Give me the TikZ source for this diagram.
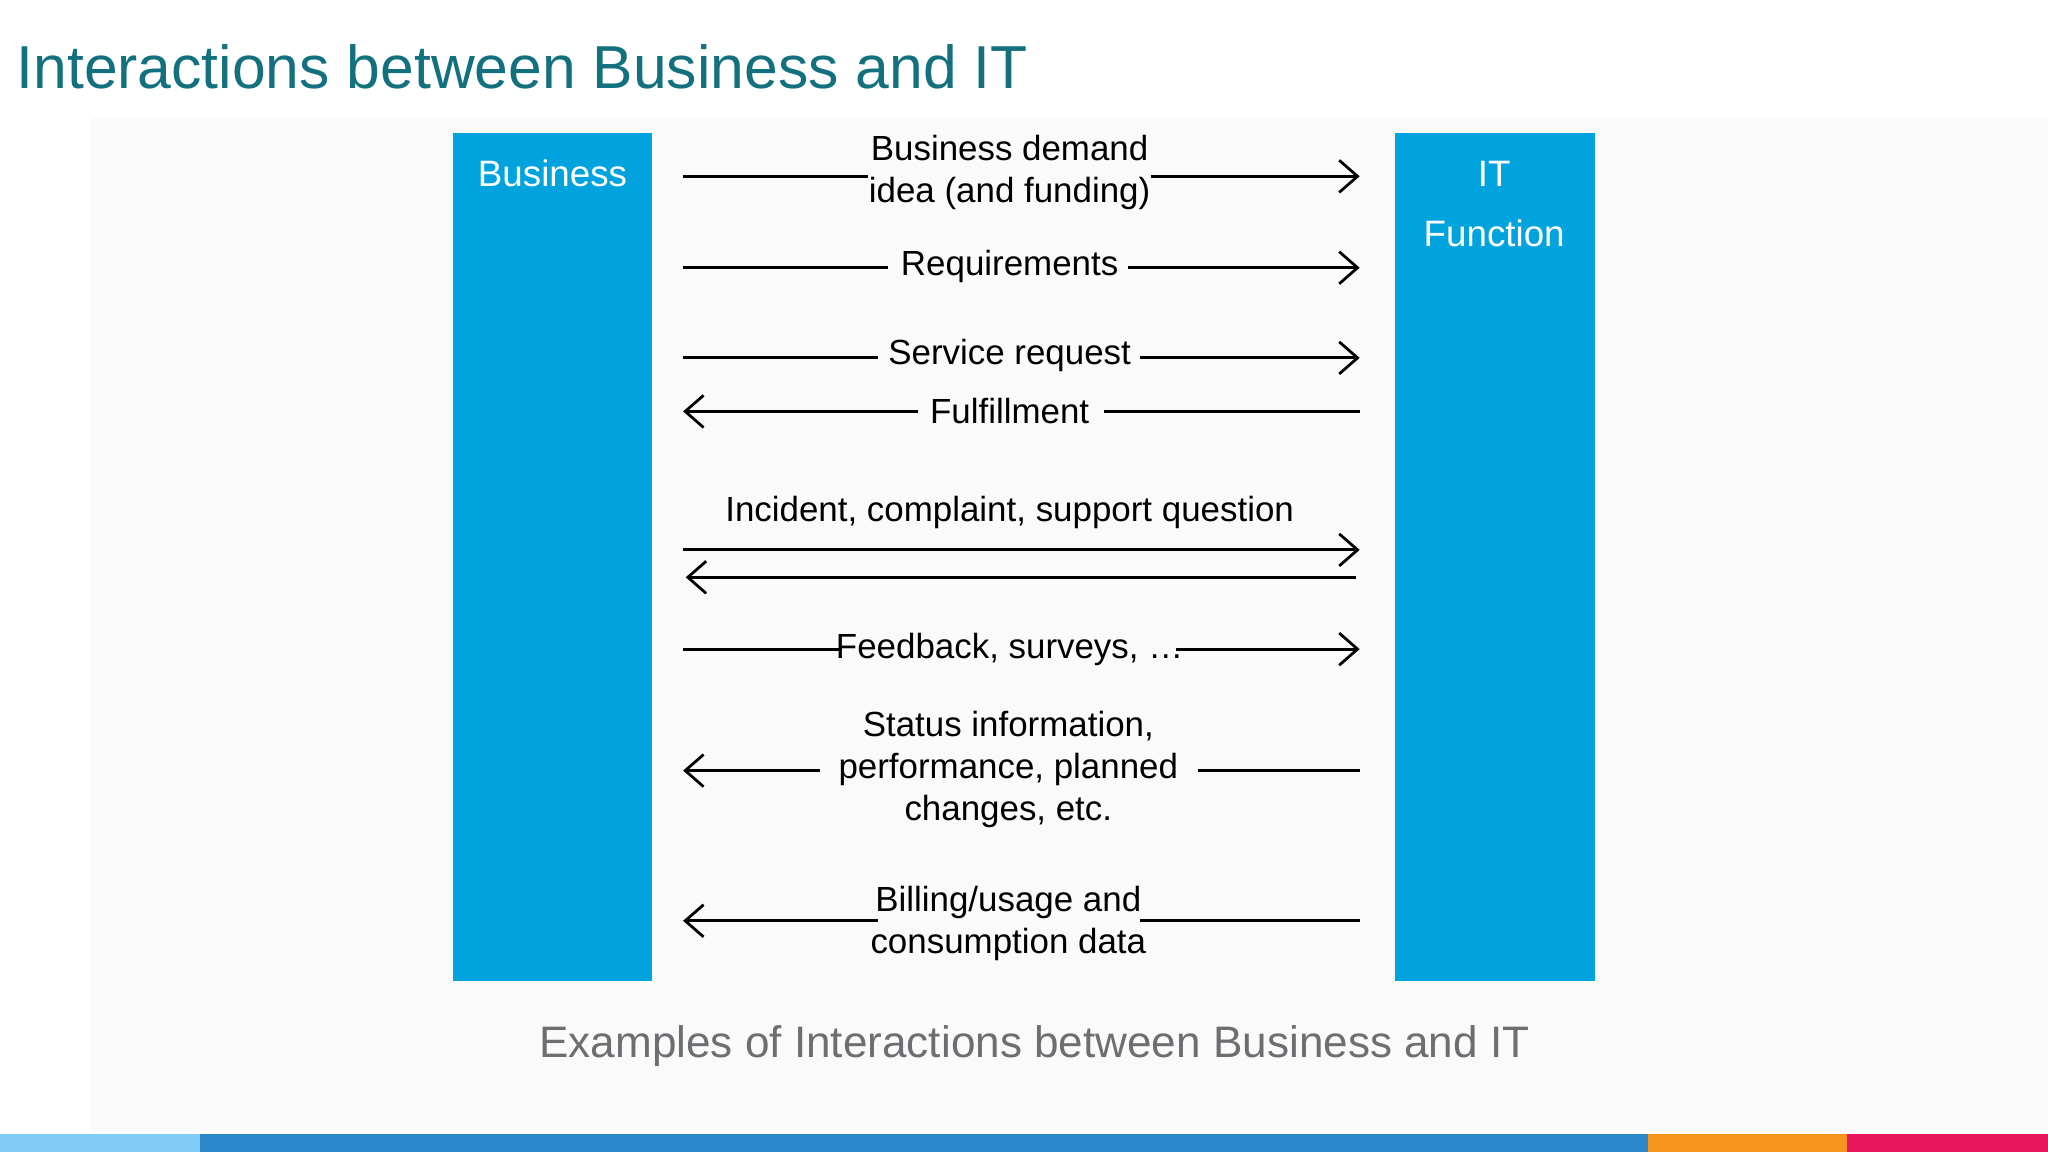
\documentclass[tikz,border=0pt]{standalone}
\usepackage{fontspec}
\setmainfont{Liberation Sans}
\usetikzlibrary{arrows.meta}
\definecolor{titlec}{HTML}{12707F}
\definecolor{boxc}{HTML}{00A3DD}
\definecolor{capc}{HTML}{6D6E71}
\definecolor{barA}{HTML}{7FCDF7}
\definecolor{barB}{HTML}{2A88C8}
\definecolor{barC}{HTML}{F7941D}
\definecolor{barD}{HTML}{E8175D}
\begin{document}
\begin{tikzpicture}[x=0.01cm,y=-0.01cm,
  col/.style={fill=boxc,draw=none},
  wlab/.style={text=white,font=\fontsize{8}{11}\selectfont},
  lab/.style={font=\fontsize{7.6}{9.2}\selectfont,align=center,inner sep=0pt},
  conn/.style={line width=0.6pt},
  tip/.style={-{Straight Barb[length=4pt,width=7pt]}}]
\useasboundingbox (0,0) rectangle (1568,882);
\fill[white] (0,0) rectangle (1568,882);
\fill[black!2] (70,90) rectangle (1568,866);
\node[anchor=base west,text=titlec,font=\fontsize{13.2}{16}\selectfont,inner sep=0pt] (title) at (12,68) {Interactions between Business and IT};
\fill[col] (347,102) rectangle (499,751);
\fill[col] (1068,102) rectangle (1221,751);
\node[wlab] (bus) at (423,133) {Business};
\node[wlab,align=center] (it) at (1144,156) {IT\\[2pt]Function};
% row 1
\coordinate (l1) at (523,135); \coordinate (r1) at (1041,135);
\node[lab] (t1) at (773,132) {Business demand\\idea (and funding)};
\draw[conn] (l1) -- (l1-|t1.west);
\draw[conn,tip] (r1-|t1.east) -- (r1);
% row 2
\coordinate (l2) at (523,205); \coordinate (r2) at (1041,205);
\node[lab] (t2) at (773,204) {Requirements};
\draw[conn] (l2) -- ++(157,0);
\draw[conn,tip] (864,205) -- (r2);
% row 3
\coordinate (l3) at (523,274); \coordinate (r3) at (1041,274);
\node[lab] (t3) at (773,272) {Service request};
\draw[conn] (l3) -- ++(149,0);
\draw[conn,tip] (873,274) -- (r3);
% row 4
\coordinate (l4) at (523,315); \coordinate (r4) at (1041,315);
\node[lab] (t4) at (773,315) {Fulfillment};
\draw[conn,tip] (703,315) -- (l4);
\draw[conn] (845,315) -- (r4);
% row 5
\node[lab] (t5) at (773,392) {Incident, complaint, support question};
\coordinate (l5) at (523,421); \coordinate (r5) at (1041,421);
\coordinate (l6) at (525,442); \coordinate (r6) at (1038,442);
\draw[conn,tip] (l5) -- (r5);
\draw[conn,tip] (r6) -- (l6);
% row 6
\coordinate (l7) at (523,497); \coordinate (r7) at (1041,497);
\node[lab] (t7) at (773,497) {Feedback, surveys, \dots};
\draw[conn] (l7) -- (645,497);
\draw[conn,tip] (900,497) -- (r7);
% row 7
\coordinate (l8) at (523,590); \coordinate (r8) at (1041,590);
\node[lab] (t8) at (772,589) {Status information,\\performance, planned\\changes, etc.};
\draw[conn,tip] (628,590) -- (l8);
\draw[conn] (917,590) -- (r8);
% row 8
\coordinate (l9) at (523,705); \coordinate (r9) at (1041,705);
\node[lab] (t9) at (772,707) {Billing/usage and\\consumption data};
\draw[conn,tip] (672,705) -- (l9);
\draw[conn] (873,705) -- (r9);
% caption
\node[text=capc,font=\fontsize{9.6}{12}\selectfont] (cap) at (792,801) {Examples of Interactions between Business and IT};
% bottom bar
\fill[barA] (0,868) rectangle (153,882);
\fill[barB] (153,868) rectangle (1262,882);
\fill[barC] (1262,868) rectangle (1414,882);
\fill[barD] (1414,868) rectangle (1568,882);
\end{tikzpicture}
\end{document}
